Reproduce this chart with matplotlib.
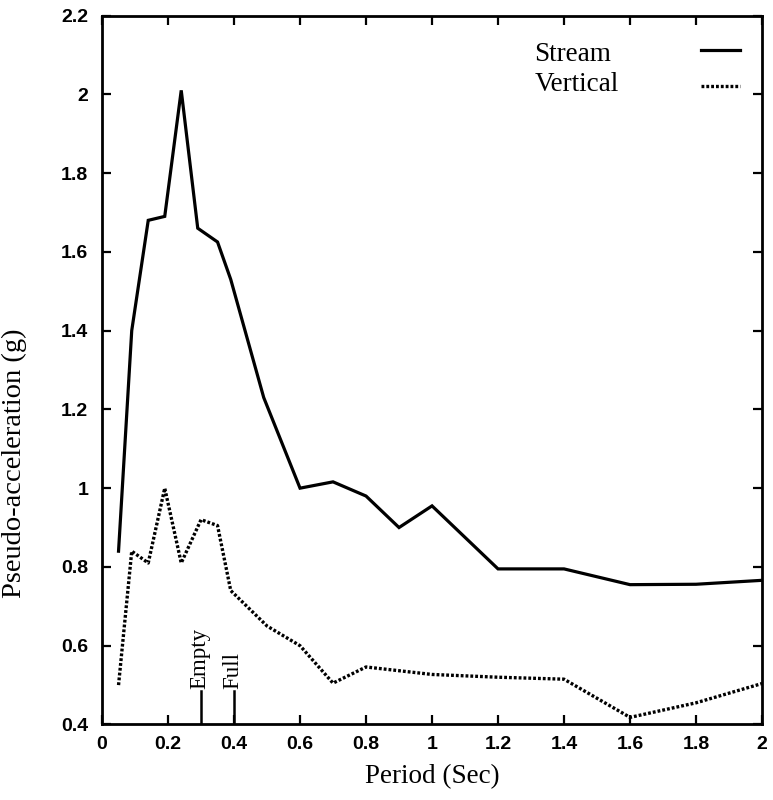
import matplotlib
matplotlib.use("Agg")
import matplotlib.pyplot as plt
from matplotlib.ticker import MultipleLocator, FuncFormatter
from matplotlib.lines import Line2D

# Response spectra: period (s) vs pseudo-acceleration (g)
stream_period = [0.05, 0.09, 0.14, 0.19, 0.24, 0.29, 0.35, 0.39, 0.49, 0.60,
                 0.70, 0.80, 0.90, 1.00, 1.20, 1.40, 1.60, 1.80, 2.00]
stream_accel = [0.84, 1.40, 1.68, 1.69, 2.01, 1.66, 1.625, 1.53, 1.23, 1.00,
                1.016, 0.98, 0.90, 0.955, 0.795, 0.795, 0.755, 0.756, 0.766]

vertical_period = [0.05, 0.09, 0.14, 0.19, 0.24, 0.30, 0.35, 0.39, 0.50, 0.60,
                   0.70, 0.80, 1.00, 1.20, 1.40, 1.60, 1.80, 2.00]
vertical_accel = [0.50, 0.84, 0.81, 1.00, 0.81, 0.92, 0.905, 0.74, 0.65, 0.60,
                  0.505, 0.546, 0.527, 0.52, 0.515, 0.418, 0.455, 0.504]

# Natural periods of the structure
marker_periods = [0.30, 0.40]
marker_labels = ["Empty", "Full"]
marker_top = 0.485

series_labels = ["Stream", "Vertical"]

SERIF = ["Liberation Serif", "DejaVu Serif"]
SANS = ["Liberation Sans", "DejaVu Sans"]
DOTTED = (0, (0.85, 0.6))

fig = plt.figure(figsize=(7.73, 8.0), dpi=100)
ax = fig.add_axes([0.132, 0.0944, 0.8538, 0.8862])

ax.plot(stream_period, stream_accel, color="black", lw=2.3,
        solid_joinstyle="miter")
ax.plot(vertical_period, vertical_accel, color="black", lw=2.4,
        linestyle=DOTTED, dash_capstyle="butt")

for p, lab in zip(marker_periods, marker_labels):
    ax.plot([p, p], [0.4, marker_top], color="black", lw=1.8)
    ax.text(p - 0.004, marker_top + 0.006, lab, rotation=90, ha="center",
            va="bottom", family=SERIF, fontsize=16.5)

ax.set_xlim(0, 2)
ax.set_ylim(0.4, 2.2)
ax.xaxis.set_major_locator(MultipleLocator(0.2))
ax.yaxis.set_major_locator(MultipleLocator(0.2))
fmt = FuncFormatter(lambda v, pos: f"{v:.1f}".rstrip("0").rstrip("."))
ax.xaxis.set_major_formatter(fmt)
ax.yaxis.set_major_formatter(fmt)

ax.tick_params(direction="in", length=6.5, width=1.6, top=True, right=True,
               labelsize=14)
ax.tick_params(axis="x", pad=8.5)
ax.tick_params(axis="y", pad=10)
for lbl in ax.get_xticklabels() + ax.get_yticklabels():
    lbl.set_family(SANS)
    lbl.set_fontweight("bold")

for sp in ax.spines.values():
    sp.set_linewidth(2.0)

ax.set_xlabel("Period (Sec)", family=SERIF, fontsize=19.5, labelpad=8)
ax.set_ylabel("Pseudo-acceleration (g)", family=SERIF, fontsize=20.5)
ax.yaxis.set_label_coords(-0.113, 0.369)

# Legend: text on the left, line sample on the right
legend_rows = [(0.945, 0.952, dict(lw=2.3, linestyle="-")),
               (0.903, 0.901, dict(lw=2.4, linestyle=DOTTED,
                                   dash_capstyle="butt"))]
for name, (ty, ly, style) in zip(series_labels, legend_rows):
    ax.text(0.655, ty, name, transform=ax.transAxes, family=SERIF,
            fontsize=19.5, ha="left", va="center")
    ax.add_line(Line2D([0.908, 0.967], [ly, ly], transform=ax.transAxes,
                       color="black", **style))

fig.savefig("out.png", dpi=100)
